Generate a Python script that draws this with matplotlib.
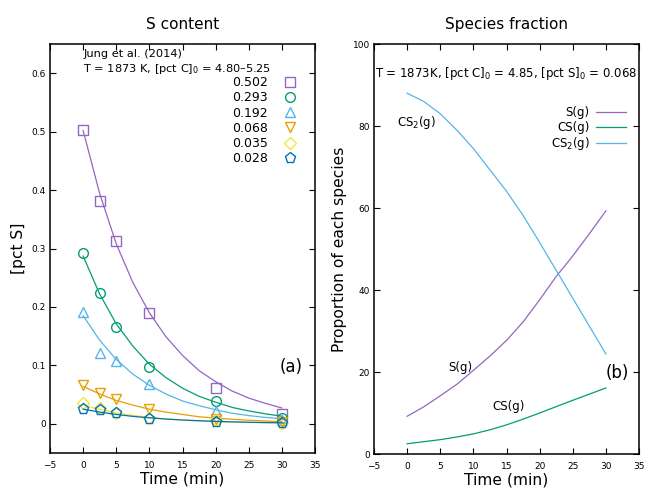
import matplotlib
matplotlib.use("Agg")
import matplotlib.pyplot as plt
from matplotlib.ticker import FuncFormatter

plt.rcParams['font.family'] = ['DejaVu Sans']

# ---- panel (a): measured S content (Jung et al. 2014) ----
t_meas = [0, 2.5, 5, 10, 20, 30]
s_0502 = [0.502, 0.382, 0.313, 0.190, 0.061, 0.017]
s_0293 = [0.293, 0.224, 0.165, 0.097, 0.039, 0.010]
s_0192 = [0.192, 0.122, 0.108, 0.068, 0.022, 0.006]
s_0068 = [0.066, 0.053, 0.043, 0.025, 0.008, 0.003]
s_0035 = [0.035, 0.027, 0.018, 0.010, 0.006, 0.001]
s_0028 = [0.026, 0.023, 0.018, 0.009, 0.003, 0.002]

# model curves
t_fit = [0, 2.5, 5, 7.5, 10, 12.5, 15, 17.5, 20, 22.5, 25, 27.5, 30]
f_0502 = [0.502, 0.394, 0.308, 0.242, 0.190, 0.149, 0.117, 0.091, 0.072, 0.056, 0.044, 0.035, 0.027]
f_0293 = [0.287, 0.222, 0.171, 0.133, 0.102, 0.079, 0.061, 0.047, 0.037, 0.028, 0.022, 0.017, 0.013]
f_0192 = [0.185, 0.143, 0.110, 0.085, 0.066, 0.051, 0.039, 0.031, 0.024, 0.018, 0.014, 0.011, 0.0084]
f_0068 = [0.064, 0.051, 0.040, 0.032, 0.025, 0.020, 0.016, 0.012, 0.0098, 0.0077, 0.0061, 0.0048, 0.0038]
f_0035 = [0.032, 0.0246, 0.0187, 0.0144, 0.011, 0.0084, 0.0064, 0.0049, 0.0038, 0.0029, 0.0022, 0.0017, 0.0013]
f_0028 = [0.025, 0.020, 0.016, 0.0127, 0.0102, 0.0081, 0.0065, 0.0052, 0.0041, 0.0033, 0.0026, 0.0021, 0.0017]

labels_a = ['0.502', '0.293', '0.192', '0.068', '0.035', '0.028']
colors_a = ['#9466c0', '#009e73', '#56b4e9', '#e69f00', '#f0e442', '#0072b2']
markers_a = ['s', 'o', '^', 'v', 'D', 'p']
sizes_a = [7, 7, 7.5, 7.5, 6, 8]

# ---- panel (b): species fraction ----
t_sp = [0, 2.5, 5, 7.5, 10, 12.5, 15, 17.5, 20, 22.5, 25, 27.5, 30]
sp_S = [9.2, 11.5, 14.2, 17.0, 20.4, 23.9, 27.7, 32.2, 37.6, 43.3, 48.3, 53.7, 59.3]
sp_CS = [2.5, 3.0, 3.5, 4.15, 4.9, 5.9, 7.1, 8.5, 10.0, 11.55, 13.1, 14.6, 16.1]
sp_CS2 = [88.0, 86.0, 83.0, 79.0, 74.5, 69.3, 64.1, 58.2, 51.6, 44.8, 38.0, 31.2, 24.4]

fig = plt.figure(figsize=(6.48, 4.91), dpi=100)
axa = fig.add_axes([50/648, 38/491, 265/648, 409/491])
axb = fig.add_axes([374/648, 37/491, 265/648, 410/491])

series = [(s_0502, f_0502), (s_0293, f_0293), (s_0192, f_0192),
          (s_0068, f_0068), (s_0035, f_0035), (s_0028, f_0028)]
handles = []
for i, (meas, fit) in enumerate(series):
    axa.plot(t_fit, fit, color=colors_a[i], lw=0.9)
    h, = axa.plot(t_meas, meas, ls='none', marker=markers_a[i], ms=sizes_a[i],
                  mfc='none', mec=colors_a[i], mew=1.0)
    handles.append(h)

axa.set_xlim(-5, 35)
axa.set_ylim(-0.05, 0.65)
axa.set_xticks(range(-5, 36, 5))
axa.set_yticks([0, 0.1, 0.2, 0.3, 0.4, 0.5, 0.6])
axa.yaxis.set_major_formatter(FuncFormatter(lambda v, p: '%g' % round(v, 2)))
axa.set_title('S content', fontsize=11, pad=11)
axa.set_xlabel('Time (min)', fontsize=11.2, labelpad=1)
axa.set_ylabel('[pct S]', fontsize=11.2, labelpad=4)
axa.text(0, 0.628, 'Jung et al. (2014)', fontsize=8.2, va='baseline')
axa.text(0, 0.602, r'T = 1873 K, [pct C]$_0$ = 4.80–5.25', fontsize=8.2, va='baseline')
axa.text(31.4, 0.098, '(a)', fontsize=12, ha='center', va='center')
axa.legend(handles, labels_a, loc='upper right', bbox_to_anchor=(0.965, 0.937),
           markerfirst=False, frameon=False, fontsize=9, borderpad=0,
           handlelength=1.5, handletextpad=1.0, labelspacing=0.18)

axb.plot(t_sp, sp_S, color='#9466c0', lw=0.9, label='S(g)')
axb.plot(t_sp, sp_CS, color='#009e73', lw=0.9, label='CS(g)')
axb.plot(t_sp, sp_CS2, color='#56b4e9', lw=0.9, label=r'CS$_2$(g)')
axb.set_xlim(-5, 35)
axb.set_ylim(0, 100)
axb.set_xticks(range(-5, 36, 5))
axb.set_yticks(range(0, 101, 20))
axb.set_title('Species fraction', fontsize=11, pad=11)
axb.set_xlabel('Time (min)', fontsize=11.2, labelpad=1)
axb.set_ylabel('Proportion of each species', fontsize=11.2, labelpad=4)
axb.text(-4.9, 92, r'T = 1873K, [pct C]$_0$ = 4.85, [pct S]$_0$ = 0.068',
         fontsize=8.5, va='baseline')
axb.text(-1.5, 80.8, r'CS$_2$(g)', fontsize=8.5, va='center')
axb.text(6.2, 21, 'S(g)', fontsize=8.5, va='center')
axb.text(12.9, 11.5, 'CS(g)', fontsize=8.5, va='center')
axb.text(31.7, 19.8, '(b)', fontsize=12, ha='center', va='center')
axb.legend(loc='upper right', bbox_to_anchor=(0.975, 0.862), frameon=False,
           markerfirst=False, fontsize=8.5, borderpad=0, handlelength=2.6,
           handletextpad=0.5, labelspacing=0.12)

for ax in (axa, axb):
    ax.tick_params(direction='in', top=True, right=True, length=4, width=0.8,
                   labelsize=6.5)
    ax.tick_params(axis='x', pad=6)
    ax.tick_params(axis='y', pad=3)
    for sp in ax.spines.values():
        sp.set_linewidth(1.1)

fig.savefig('out.png', dpi=100)
